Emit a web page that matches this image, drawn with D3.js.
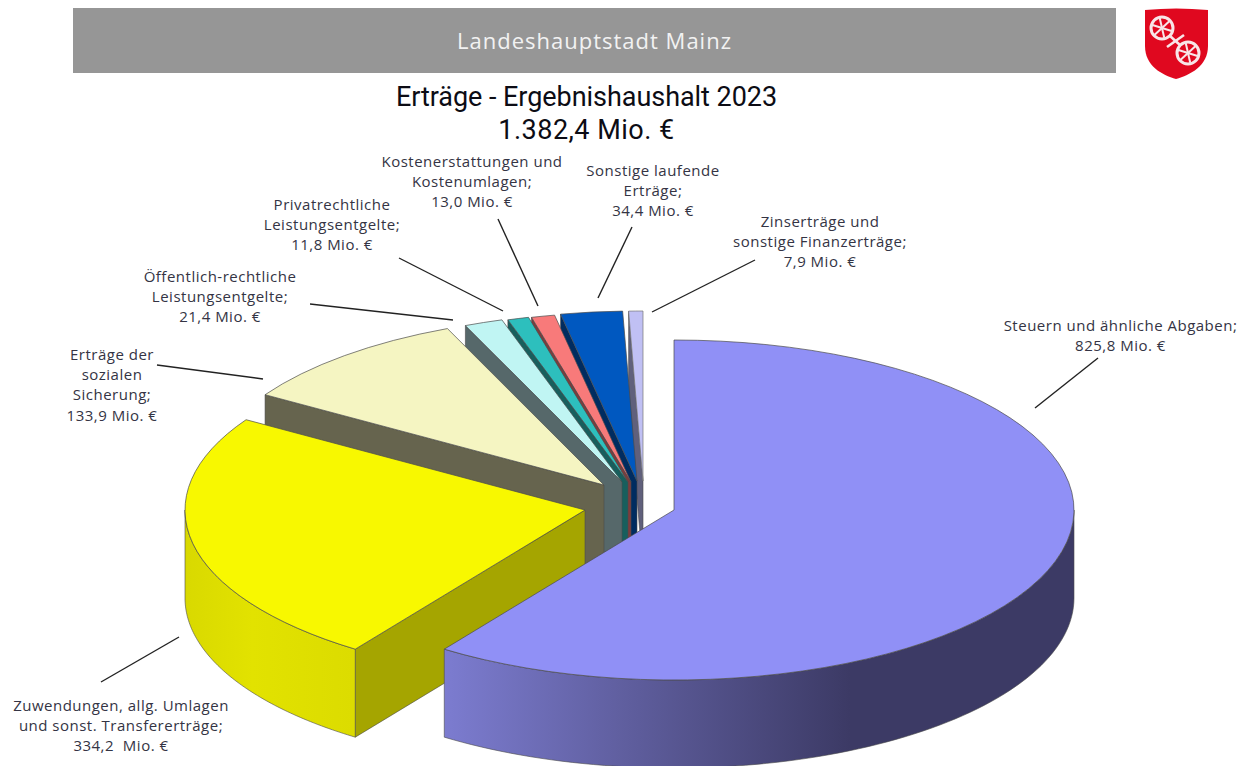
<!DOCTYPE html>
<html><head><meta charset="utf-8">
<script src="https://cdn.jsdelivr.net/npm/d3@7"></script>
<style>html,body{margin:0;background:#fff}svg{display:block}</style></head>
<body><div id="c"></div>
<script>
const categories=["Steuern und ähnliche Abgaben","Zuwendungen, allg. Umlagen und sonst. Transfererträge","Erträge der sozialen Sicherung","Öffentlich-rechtliche Leistungsentgelte","Privatrechtliche Leistungsentgelte","Kostenerstattungen und Kostenumlagen","Sonstige laufende Erträge","Zinserträge und sonstige Finanzerträge"];
const values=[825.8,334.2,133.9,21.4,11.8,13.0,34.4,7.9];
const topColors=["#9090f6","#f8f800","#f5f5c2","#c0f5f3","#2dbfbd","#f87a7a","#0058c0","#c0c0f4"];
const sideColors=["#7c7cd0","#a5a500","#66644e","#56686a","#175f5d","#7c3c3c","#002c60","#60607c"];
const valueTexts=["825,8 Mio. €","334,2\u00a0 Mio. €","133,9 Mio. €","21,4 Mio. €","11,8 Mio. €","13,0 Mio. €","34,4 Mio. €","7,9 Mio. €"];
const labelLines=[["Steuern und ähnliche Abgaben;"],["Zuwendungen, allg. Umlagen","und sonst. Transfererträge;"],["Erträge der","sozialen","Sicherung;"],["Öffentlich-rechtliche","Leistungsentgelte;"],["Privatrechtliche","Leistungsentgelte;"],["Kostenerstattungen und","Kostenumlagen;"],["Sonstige laufende","Erträge;"],["Zinserträge und","sonstige Finanzerträge;"]];
// layout (not data)
const apexes=[[674,510],[585,510],[604,485],[622,482],[628,482],[631,482],[637,481],[643,481]];
const labelPos=[[1120.5,325],[121,705],[112,354],[220,276],[332,204],[472,161],[653,170],[820,221]];
const leaders=[[1035,408,1098,358],[101,682,179,637],[263,379,157,365],[453,320,310,304],[503,311,399,258],[538,306,498,219],[598,298,632,227],[652,312,755,260]];
const RX=400,RY=170,DEPTH=88;
const W=1240,H=766,FONT="'Open Sans','Noto Sans',sans-serif";

const svg=d3.select("#c").append("svg").attr("width",W).attr("height",H).attr("viewBox",`0 0 ${W} ${H}`);
const defs=svg.append("defs");
function grad(id,x1,x2,stops){
  const g=defs.append("linearGradient").attr("id",id).attr("gradientUnits","userSpaceOnUse").attr("x1",x1).attr("x2",x2).attr("y1",0).attr("y2",0);
  stops.forEach(s=>g.append("stop").attr("offset",s[0]).attr("stop-color",s[1]));
}
grad("wall0",444,850,[[0,"#7c7cd0"],[.45,"#5f5e9e"],[1,"#3c3a65"]]);
grad("wall1",185,353,[[0,"#d9d900"],[.4,"#e2e200"],[1,"#dcdc00"]]);

// header
svg.append("rect").attr("x",73).attr("y",8).attr("width",1043).attr("height",65).attr("fill","#969696");
svg.append("text").attr("x",594.5).attr("y",49).attr("text-anchor","middle").attr("fill","#f2f2f2")
  .attr("font-family",FONT).attr("font-size",22).attr("letter-spacing",1).text("Landeshauptstadt Mainz");
// crest
const crest=svg.append("g").attr("transform","translate(1120,0)");
crest.append("path").attr("d","M25,10 Q56,7 88,10 L88,46 C88,66 70,75 56,79 C42,75 25,66 25,46 Z").attr("fill","#e0081f");
const pale="#f8e6e8";
[[42,28],[68,53]].forEach(c=>{
  crest.append("circle").attr("cx",c[0]).attr("cy",c[1]).attr("r",11).attr("fill","none").attr("stroke",pale).attr("stroke-width",3);
  d3.range(6).forEach(i=>{const a=i*Math.PI/3+.3;
    crest.append("line").attr("x1",c[0]).attr("y1",c[1]).attr("x2",c[0]+10*Math.cos(a)).attr("y2",c[1]+10*Math.sin(a)).attr("stroke",pale).attr("stroke-width",2);});
});
crest.append("line").attr("x1",50).attr("y1",36).attr("x2",60).attr("y2",45).attr("stroke",pale).attr("stroke-width",2.6);
crest.append("line").attr("x1",47).attr("y1",47).attr("x2",64).attr("y2",35).attr("stroke",pale).attr("stroke-width",2.6);

// title
const titleG=svg.append("g").attr("text-anchor","middle").attr("font-family","Roboto,sans-serif").attr("font-weight",400).attr("fill","#0c0c14");
titleG.append("text").attr("x",586.5).attr("y",106).attr("font-size",27).attr("letter-spacing",-0.05).text("Erträge - Ergebnishaushalt 2023");
titleG.append("text").attr("x",586.5).attr("y",139).attr("font-size",27).attr("letter-spacing",0.5).text("1.382,4 Mio. €");

// pie
const pie=d3.pie().value(d=>d).sort(null);
const arcs=pie(values);
const arcGen=d3.arc().innerRadius(0).outerRadius(RX);
const rim=(i,a)=>[apexes[i][0]+RX*Math.sin(a),apexes[i][1]-RY*Math.cos(a)];
const poly=d3.line();
const STROKE="#4a4a4a";
const order=d3.range(values.length).reverse();
order.forEach(i=>{
  const a=arcs[i],ap=apexes[i],g=svg.append("g");
  if(i>0){
    const r=rim(i,a.startAngle);
    g.append("path").attr("d",poly([ap,r,[r[0],r[1]+DEPTH],[ap[0],ap[1]+DEPTH]])+"Z").attr("fill",sideColors[i]).attr("stroke",STROKE).attr("stroke-width",.6);
  }
  const s=Math.max(a.startAngle,Math.PI/2),e=Math.min(a.endAngle,3*Math.PI/2);
  if(e>s){
    const n=80,top=d3.range(n+1).map(k=>rim(i,s+(e-s)*k/n));
    const bot=top.map(p=>[p[0],p[1]+DEPTH]).reverse();
    g.append("path").attr("d",poly(top.concat(bot))+"Z").attr("fill",i===0?"url(#wall0)":"url(#wall1)").attr("stroke",STROKE).attr("stroke-width",.6);
  }
  g.append("path").attr("d",arcGen(a)).attr("transform",`translate(${ap[0]},${ap[1]}) scale(1,${RY/RX})`)
    .attr("fill",topColors[i]).attr("stroke",i===7?"#777":STROKE).attr("stroke-width",.7).attr("vector-effect","non-scaling-stroke");
});

// leader lines
svg.append("g").selectAll("line").data(leaders).join("line")
  .attr("x1",d=>d[0]).attr("y1",d=>d[1]).attr("x2",d=>d[2]).attr("y2",d=>d[3]).attr("stroke","#222").attr("stroke-width",1.4);

// labels
const lg=svg.append("g").attr("font-family",FONT).attr("font-size",15).attr("letter-spacing",0.5).attr("fill","#343444").attr("text-anchor","middle");
categories.forEach((c,i)=>{
  const lines=labelLines[i].concat([valueTexts[i]]);
  const t=lg.append("text");
  lines.forEach((l,k)=>t.append("tspan").attr("x",labelPos[i][0]).attr("y",labelPos[i][1]+k*20.2+6).text(l));
});
</script></body></html>
